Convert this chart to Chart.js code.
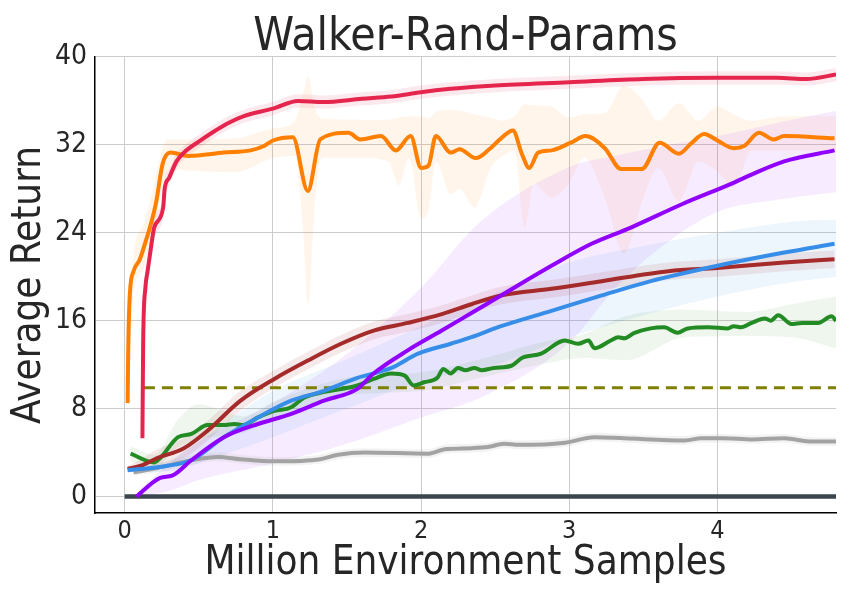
<!DOCTYPE html>
<html>
<head>
<meta charset="utf-8">
<script src="https://cdn.jsdelivr.net/npm/chart.js@4.4.0/dist/chart.umd.min.js"></script>
<style>
  body { margin: 0; background: #fff; }
</style>
</head>
<body>
<canvas id="myChart" width="850" height="600"></canvas>
<script>
// values
const xTicks = [0, 1, 2, 3, 4];
const yTicks = [0, 8, 16, 24, 32, 40];

const redX = [0.12, 0.125, 0.14, 0.155, 0.175, 0.2, 0.26, 0.27, 0.3, 0.35, 0.4, 0.5, 0.6, 0.7, 0.8, 1.0, 1.17, 1.34, 1.6, 1.8, 2.0, 2.2, 2.5, 3.0, 3.5, 4.0, 4.4, 4.6, 4.8];
const redY = [5.3, 14, 19, 20.5, 22.4, 24.5, 26.3, 28, 29, 30.5, 31.3, 32.3, 33.2, 34, 34.6, 35.3, 36, 35.9, 36.2, 36.4, 36.8, 37.1, 37.4, 37.7, 38, 38.1, 38.1, 38, 38.4];
const redLo = [5, 12, 17.5, 19.5, 21.5, 23.5, 25.5, 27, 28.3, 29.8, 30.7, 31.7, 32.6, 33.4, 34, 34.7, 35.4, 35.3, 35.6, 35.8, 36.2, 36.5, 36.8, 37.1, 37.4, 37.5, 37.5, 37.4, 37.8];
const redHi = [5.6, 16, 20.5, 21.5, 23.3, 25.5, 27.2, 29, 29.8, 31.2, 31.9, 32.9, 33.8, 34.6, 35.2, 35.9, 36.6, 36.5, 36.8, 37, 37.4, 37.7, 38, 38.3, 38.6, 38.7, 38.7, 38.6, 39];

const orangeX = [0.02, 0.025, 0.035, 0.06, 0.1, 0.128, 0.21, 0.257, 0.31, 0.43, 0.67, 0.85, 0.94, 1.0, 1.135, 1.236, 1.32, 1.51, 1.59, 1.73, 1.83, 1.93, 2.0, 2.05, 2.1, 2.2, 2.26, 2.37, 2.46, 2.54, 2.62, 2.68, 2.73, 2.79, 2.88, 3.01, 3.11, 3.24, 3.35, 3.49, 3.61, 3.74, 3.82, 3.91, 4.0, 4.11, 4.18, 4.28, 4.38, 4.45, 4.79];
const orangeY = [8.5, 14, 18.4, 20.5, 21.5, 22.6, 26.6, 30.3, 31.3, 31, 31.3, 31.5, 31.9, 32.4, 32.7, 27.8, 32.5, 33.1, 32.5, 32.8, 31.5, 32.8, 29.9, 30.1, 32.8, 31.3, 31.6, 30.8, 31.6, 32.6, 33.3, 31.2, 29.9, 31.3, 31.5, 32.2, 32.8, 31.7, 29.8, 29.8, 32.2, 31.2, 32.1, 33, 32.4, 31.7, 31.9, 33.1, 32.5, 32.8, 32.6];
const orangeBandX = [0.02, 0.06, 0.12, 0.2, 0.26, 0.3, 0.5, 0.75, 1.0, 1.15, 1.2, 1.24, 1.28, 1.33, 1.6, 1.78, 1.85, 1.92, 2.0, 2.05, 2.1, 2.2, 2.26, 2.36, 2.47, 2.55, 2.63, 2.7, 2.76, 2.88, 3.0, 3.1, 3.24, 3.37, 3.5, 3.6, 3.74, 3.87, 4.0, 4.11, 4.23, 4.45, 4.8];
const orangeLo = [8.3, 18.5, 20.5, 24.5, 28.5, 29.8, 29.6, 29.5, 30.8, 31, 25, 17.5, 26, 30.8, 30.8, 30.5, 28.3, 30.8, 25.3, 26, 30.5, 27.5, 28, 26.3, 29.9, 31, 31.5, 24.5, 28.5, 27.2, 28.5, 30.8, 27.2, 22.1, 27.2, 29.9, 26.9, 30.5, 29.6, 28.1, 31.5, 31.5, 31.5];
const orangeHi = [9, 22, 24.5, 28.5, 32, 32.5, 32.5, 32.6, 33.5, 34.2, 36.5, 38.2, 35.5, 34.4, 34.3, 34.3, 34.5, 34.6, 34.6, 34.4, 35, 35.2, 35.1, 34.8, 34.5, 34.2, 34.6, 35.7, 35.6, 35.5, 34.5, 34.8, 34.9, 37.4, 36, 34.2, 35.8, 34.2, 35.5, 34.8, 34.2, 34.6, 34.6];

const purpleX = [0.08, 0.24, 0.32, 0.45, 0.67, 0.9, 1.12, 1.34, 1.57, 1.68, 1.91, 2.14, 2.34, 2.54, 2.88, 3.15, 3.42, 3.76, 4.1, 4.23, 4.45, 4.79];
const purpleY = [0, 1.7, 1.9, 3.3, 5.4, 6.6, 7.5, 8.7, 9.8, 11.2, 13.3, 15.1, 16.7, 18.3, 21, 23, 24.5, 26.6, 28.5, 29.3, 30.5, 31.5];
const purpleBandX = [0.08, 0.3, 0.5, 1.0, 1.5, 2.0, 2.4, 3.0, 3.3, 3.6, 4.0, 4.4, 4.8];
const purpleLo = [0, 0.5, 1.5, 3, 4.8, 7.2, 9, 14, 18.8, 22.5, 25.9, 27, 27.7];
const purpleHi = [0.3, 3, 5, 8.5, 13, 19, 25, 30, 31, 31.8, 32.8, 34, 35.1];

const blueX = [0.02, 0.11, 0.29, 0.45, 0.67, 0.9, 1.12, 1.34, 1.57, 1.8, 1.98, 2.2, 2.34, 2.54, 2.88, 3.22, 3.55, 4.0, 4.45, 4.79];
const blueY = [2.4, 2.5, 2.8, 3.3, 5.4, 7.2, 8.7, 9.6, 10.8, 11.7, 13, 13.9, 14.5, 15.5, 16.9, 18.3, 19.6, 21, 22.2, 23];
const blueBandX = [0.02, 0.3, 0.6, 1.0, 1.5, 2.0, 2.5, 3.0, 3.5, 4.0, 4.5, 4.8];
const blueLo = [2.2, 2.3, 3.5, 5.4, 8, 10.5, 12, 14.5, 16.5, 18.2, 19.5, 20];
const blueHi = [2.6, 3.3, 6, 9.6, 12.5, 15.5, 18.5, 21.3, 22.8, 24, 25, 25.2];

const brownX = [0.02, 0.11, 0.22, 0.4, 0.56, 0.78, 1.01, 1.24, 1.46, 1.68, 1.91, 2.14, 2.34, 2.54, 2.88, 3.22, 3.67, 4.0, 4.45, 4.79];
const brownY = [2.5, 2.8, 3.5, 4.4, 6, 8.7, 10.7, 12.4, 13.9, 15.1, 15.8, 16.6, 17.5, 18.3, 18.9, 19.6, 20.5, 20.8, 21.3, 21.6];
const brownLo = [2.2, 2.2, 2.7, 3.5, 5.1, 7.8, 9.9, 11.6, 13.1, 14.3, 15, 15.8, 16.7, 17.5, 18.1, 18.8, 19.7, 20, 20.5, 20.8];
const brownHi = [2.8, 3.4, 4.3, 5.3, 6.9, 9.6, 11.5, 13.2, 14.7, 15.9, 16.6, 17.4, 18.3, 19.1, 19.7, 20.4, 21.3, 21.6, 22.1, 22.4];

const greenX = [0.04, 0.2, 0.24, 0.36, 0.45, 0.56, 0.67, 0.74, 0.8, 0.9, 1.01, 1.12, 1.21, 1.34, 1.57, 1.68, 1.8, 1.89, 1.95, 2.02, 2.11, 2.15, 2.2, 2.25, 2.3, 2.36, 2.41, 2.49, 2.61, 2.68, 2.81, 2.97, 3.06, 3.13, 3.17, 3.28, 3.33, 3.37, 3.44, 3.55, 3.64, 3.73, 3.8, 3.94, 4.07, 4.11, 4.16, 4.23, 4.32, 4.36, 4.41, 4.5, 4.57, 4.68, 4.77, 4.8];
const greenY = [3.9, 3.1, 3.5, 5.4, 5.7, 6.5, 6.5, 6.6, 6.5, 7.2, 7.8, 8.1, 9, 9.5, 10.1, 10.7, 11.2, 11, 10.1, 10.4, 10.8, 11.6, 11.2, 11.7, 11.5, 11.7, 11.5, 11.7, 11.9, 12.6, 13, 14.2, 13.9, 14.2, 13.5, 14.2, 14.5, 14.4, 14.9, 15.3, 15.4, 14.9, 15.3, 15.4, 15.3, 15.5, 15.4, 15.8, 16.2, 16, 16.5, 15.7, 15.8, 15.8, 16.4, 16];
const greenBandX = [0.04, 0.2, 0.36, 0.5, 0.8, 1.0, 1.5, 2.0, 2.4, 2.8, 3.1, 3.38, 3.78, 4.2, 4.5, 4.8];
const greenLo = [3.2, 2.6, 4.5, 5.2, 5.8, 7, 9.2, 9.6, 10.8, 12, 12.6, 12.4, 14.5, 14.6, 14.5, 13.5];
const greenHi = [4.6, 3.8, 7, 8.4, 7.3, 8.6, 10.8, 11.3, 12.5, 14, 14.8, 16.4, 17, 16.8, 17.5, 18.2];

const grayX = [0.06, 0.22, 0.45, 0.63, 0.78, 1.01, 1.32, 1.44, 1.62, 2.05, 2.16, 2.34, 2.45, 2.56, 2.66, 2.97, 3.17, 3.37, 3.78, 3.89, 4.05, 4.23, 4.45, 4.64, 4.8];
const grayY = [2.2, 2.6, 3.3, 3.6, 3.4, 3.2, 3.4, 3.8, 4, 3.9, 4.3, 4.4, 4.5, 4.8, 4.7, 4.9, 5.4, 5.3, 5.1, 5.3, 5.3, 5.2, 5.3, 5, 5];
const grayLo = [1.9, 2.2, 2.9, 3.2, 3, 2.8, 3, 3.4, 3.6, 3.5, 3.9, 4, 4.1, 4.4, 4.3, 4.5, 5, 4.9, 4.7, 4.9, 4.9, 4.8, 4.9, 4.6, 4.6];
const grayHi = [2.5, 3, 3.7, 4, 3.8, 3.6, 3.8, 4.2, 4.4, 4.3, 4.7, 4.8, 4.9, 5.2, 5.1, 5.3, 5.8, 5.7, 5.5, 5.7, 5.7, 5.6, 5.7, 5.4, 5.4];

const darkX = [0, 4.8];
const darkY = [0, 0];
const dashX = [0.13, 4.8];
const dashY = [9.9, 9.9];

function pts(xs, ys) {
    return xs.map((x, i) => ({x: x, y: ys[i]}));
}

function line(xs, ys, color, width, order) {
    return {
        data: pts(xs, ys),
        borderColor: color,
        borderWidth: width,
        pointRadius: 0,
        fill: false,
        cubicInterpolationMode: 'monotone',
        order: order
    };
}

// a band is two datasets: lower edge, then upper edge filled down to it
function band(xs, lo, hi, color) {
    return [
        {data: pts(xs, lo), borderWidth: 0, pointRadius: 0, fill: false, order: 20, cubicInterpolationMode: 'monotone'},
        {data: pts(xs, hi), borderWidth: 0, pointRadius: 0, fill: '-1', backgroundColor: color, order: 20, cubicInterpolationMode: 'monotone'}
    ];
}

const datasets = [
    ...band(grayX, grayLo, grayHi, 'rgba(160,160,160,0.12)'),
    ...band(greenBandX, greenLo, greenHi, 'rgba(34,139,34,0.08)'),
    ...band(brownX, brownLo, brownHi, 'rgba(165,42,42,0.1)'),
    ...band(blueBandX, blueLo, blueHi, 'rgba(51,142,232,0.09)'),
    ...band(purpleBandX, purpleLo, purpleHi, 'rgba(150,0,255,0.08)'),
    ...band(orangeBandX, orangeLo, orangeHi, 'rgba(255,127,0,0.08)'),
    ...band(redX, redLo, redHi, 'rgba(230,37,78,0.1)'),
    line(darkX, darkY, '#3b464c', 4.5, 9),
    Object.assign(line(dashX, dashY, '#808000', 3, 8), {borderDash: [11, 7]}),
    line(grayX, grayY, '#a3a3a3', 4, 7),
    line(greenX, greenY, '#238b23', 4, 6),
    line(brownX, brownY, '#a52a2a', 4, 5),
    line(blueX, blueY, '#378ee9', 4, 4),
    line(purpleX, purpleY, '#9100ff', 4, 3),
    line(orangeX, orangeY, '#ff7f00', 4, 2),
    line(redX, redY, '#e6254e', 4, 1)
];

Chart.defaults.font.family = "'DejaVu Sans Condensed', 'DejaVu Sans', sans-serif";
Chart.defaults.color = '#262626';

let ctx = document.getElementById('myChart').getContext('2d');
let myChart = new Chart(ctx, {
    type: 'line',
    data: { datasets: datasets },
    options: {
        responsive: false,
        animation: false,
        layout: { padding: { left: 0, right: 14, top: 0, bottom: 0 } },
        plugins: {
            legend: { display: false },
            tooltip: { enabled: false },
            title: {
                display: true,
                fullSize: false,
                text: 'Walker-Rand-Params',
                font: { size: 46, weight: 'normal', lineHeight: 0.826 },
                padding: { top: 19, bottom: 0 }
            }
        },
        scales: {
            x: {
                type: 'linear',
                min: -0.2,
                max: 4.8,
                afterFit: (s) => { s.height = 87; },
                afterBuildTicks: (s) => { s.ticks = xTicks.map(v => ({value: v})); },
                ticks: { font: { size: 25 }, padding: 3 },
                grid: { color: '#cccccc', lineWidth: 1, drawTicks: false },
                border: { color: '#000000', width: 1.5 },
                title: {
                    display: true,
                    text: 'Million Environment Samples',
                    font: { size: 40 },
                    padding: { top: 0, bottom: 12 }
                }
            },
            y: {
                type: 'linear',
                min: -1.5,
                max: 40,
                afterFit: (s) => { s.width = 95; },
                afterBuildTicks: (s) => { s.ticks = yTicks.map(v => ({value: v})); },
                ticks: { font: { size: 28 }, padding: 8 },
                grid: { color: '#cccccc', lineWidth: 1, drawTicks: false },
                border: { color: '#000000', width: 1.5 },
                title: {
                    display: true,
                    text: 'Average Return',
                    font: { size: 40 },
                    padding: { top: 6, bottom: 0 }
                }
            }
        }
    }
});
</script>
</body>
</html>
